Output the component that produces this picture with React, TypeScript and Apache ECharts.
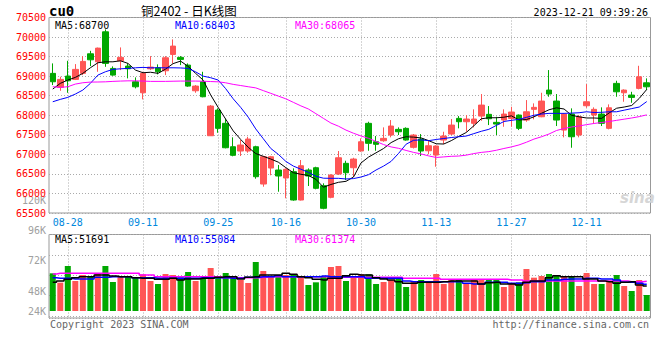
import React, { useEffect, useRef } from 'react';
import * as echarts from 'echarts';

const dates = [
  '08-24','08-25','08-28','08-29','08-30','08-31','09-01','09-04','09-05','09-06',
  '09-07','09-08','09-11','09-12','09-13','09-14','09-15','09-18','09-19','09-20',
  '09-21','09-22','09-25','09-26','09-27','09-28','10-09','10-10','10-11','10-12',
  '10-13','10-16','10-17','10-18','10-19','10-20','10-23','10-24','10-25','10-26',
  '10-27','10-30','10-31','11-01','11-02','11-03','11-06','11-07','11-08','11-09',
  '11-10','11-13','11-14','11-15','11-16','11-17','11-20','11-21','11-22','11-23',
  '11-24','11-27','11-28','11-29','11-30','12-01','12-04','12-05','12-06','12-07',
  '12-08','12-11','12-12','12-13','12-14','12-15','12-18','12-19','12-20','12-21',
];
const labelDates = ['08-28','09-11','09-25','10-16','10-30','11-13','11-27','12-11'];

const openP = [
  69071,68713,69002,68917,69071,69572,69367,70134,69198,69393,
  69257,68856,68575,69188,69214,69137,69556,69480,69283,68626,
  68856,67476,68133,67793,67195,67085,67085,67195,66241,66650,
  66599,66395,66556,65832,66599,66658,66198,65901,66497,66770,
  66658,67085,67793,67322,67348,67494,67639,67665,67179,67391,
  67092,66982,67366,67519,67920,67834,67793,67979,68023,67818,
  67877,67920,68005,67877,68151,67961,68644,68363,67621,68030,
  67494,68243,68005,68030,67665,68815,68575,68516,68687,68830,
];
const closeP = [
  68856,68917,68882,69173,69377,69418,69717,69326,69027,69480,
  69188,68728,69071,69232,69112,69470,69769,69429,68746,68746,
  68473,68235,67665,67169,66975,67238,67391,66428,66939,66939,
  66446,66617,65832,66709,66446,66131,65620,66471,66913,66530,
  66880,67322,67282,67256,67409,67724,67578,67366,67494,67085,
  67220,67213,67468,67749,67834,67903,67903,68260,67910,67775,
  68030,68082,67665,68089,68202,68363,68542,67877,68030,67450,
  67961,68345,68151,67793,68191,68600,68644,68457,68984,68728,
];
const lowP = [
  68772,68626,68575,68900,69027,69257,69112,69239,69010,69155,
  68943,68687,68406,69155,69045,69027,69326,69283,68728,68575,
  68460,67470,67552,67154,66950,66957,67041,66377,66172,66464,
  66044,65876,65814,65820,66190,66106,65595,65876,66471,66343,
  66428,67067,67092,67092,67322,67435,67494,67350,67150,66957,
  67000,66683,67264,67494,67665,67578,67690,67859,67749,67494,
  67706,67706,67621,67834,67895,67950,68473,67724,67435,67169,
  67435,68191,67793,67724,67639,68473,68345,68319,68662,68644,
];
const highP = [
  69326,68984,69393,69308,69513,69648,69730,70195,69250,69735,
  69326,68968,69112,69513,69301,69513,69940,69513,69326,68772,
  69112,68260,68176,67910,67435,67366,67450,67220,66960,66960,
  66727,66642,66642,66855,66642,66683,66259,66489,67085,66837,
  66913,67409,67834,67468,67690,67877,67690,67690,67520,67519,
  67350,67230,67578,67903,67979,68005,68151,68542,68235,67961,
  68151,68217,68020,68388,68304,68575,69155,68542,68048,68176,
  68005,68797,68202,68202,68278,68882,68662,68600,69265,68943,
];
const ma5 = [
  68670,68815,68900,68968,69071,69214,69342,69367,69367,69393,
  69326,69155,69087,69100,69071,69180,69320,69385,69250,69071,
  68900,68520,68200,67900,67600,67380,67180,67020,66950,66880,
  66800,66660,66530,66490,66460,66360,66160,66230,66285,66310,
  66420,66780,66930,67040,67150,67300,67400,67450,67440,67420,
  67350,67270,67264,67350,67460,67560,67730,67910,67936,67936,
  67950,67985,67880,67890,67960,68050,68140,68190,68160,68000,
  67960,67930,67930,67920,68060,68180,68210,68250,68430,68660,
];
const ma10 = [
  68345,68406,68457,68542,68644,68815,69027,69112,69173,69188,
  69198,69214,69224,69214,69214,69214,69214,69210,69198,69110,
  69000,68960,68900,68680,68420,68200,67950,67650,67400,67150,
  67000,66820,66700,66620,66540,66440,66390,66387,66387,66370,
  66380,66420,66480,66600,66700,66820,67026,67260,67360,67370,
  67350,67380,67405,67430,67450,67468,67530,67590,67640,67740,
  67840,67870,67895,67946,68000,68030,68048,68048,68048,68055,
  68064,68089,68070,68075,68089,68089,68130,68170,68210,68350,
];
const ma30 = [
  68729,68712,68730,68797,68831,68848,68850,68855,68866,68874,
  68880,68880,68874,68866,68866,68866,68870,68874,68874,68874,
  68870,68862,68855,68830,68790,68760,68729,68700,68630,68560,
  68490,68420,68330,68240,68160,68040,67920,67800,67720,67620,
  67540,67470,67410,67330,67250,67190,67154,67100,67050,67010,
  66960,66920,66935,66950,66957,66980,67020,67050,67070,67105,
  67150,67190,67240,67310,67390,67450,67520,67610,67660,67700,
  67726,67760,67790,67815,67840,67870,67900,67930,67965,68010,
];
const volumes = [
  77900,58600,93100,62000,74400,72400,77900,93100,60000,71000,
  71000,68900,75800,62000,55800,76500,74400,69600,80700,62000,
  68900,88900,68900,78600,71000,64100,57900,101300,82700,71000,
  74400,74400,75800,71000,53800,59300,71000,91000,93100,62000,
  71000,75800,75800,55800,60000,64100,69600,49600,60000,64100,
  60000,76500,55800,64100,66200,55800,64100,66200,66200,64100,
  49600,57200,59300,86900,68900,72400,76500,74400,71000,71000,
  51700,78600,55800,55800,60700,74400,51700,41400,64100,33100,
];
const volMa5 = [
  59300,62000,65500,68900,71000,71000,74400,74400,72400,71000,
  71000,68900,67600,67600,65500,65500,67600,64100,66200,66200,
  67600,67600,69600,71000,71000,66200,69600,71000,74400,74400,
  74400,77900,75800,71000,68900,65500,64100,67600,67600,73100,
  75800,74400,74400,68900,66200,64100,60700,57200,57200,59300,
  59300,59300,60700,62000,62000,62000,62000,55800,58600,59300,
  55800,55800,53800,59300,62000,62000,68900,73100,71000,71000,
  71000,66200,66200,62000,60700,57200,59300,60700,53800,51700,
];
const volMa10 = [
  68900,67600,67600,66200,66200,66200,69600,69600,71000,71000,
  71000,68900,68900,68900,67600,67600,67600,67600,67600,67600,
  68900,68900,68900,68900,67600,67600,69600,69600,71000,71000,
  73100,71000,71000,71000,71000,71000,72400,71000,71000,71000,
  71000,71000,67600,67600,67600,67600,67600,62000,60700,60700,
  60700,60700,60700,60700,60700,57200,55800,55800,59300,59300,
  59300,57200,57200,58600,60700,60700,64100,64100,65500,66200,
  66200,67600,67600,66200,66200,64100,59300,59300,57200,55100,
];
const volMa30 = [
  76500,77900,77900,77900,77900,77900,77900,77900,77900,77900,
  77900,77900,74400,74400,71000,71000,71000,71000,71000,71000,
  71000,71000,71000,68900,68900,68900,68900,68900,69600,71000,
  71000,71000,71000,71000,71000,71000,71000,69600,69600,69600,
  69600,69600,69600,69600,69600,69600,69600,67600,67600,67600,
  67600,67600,65500,65500,65500,65500,65500,65500,65500,65500,
  65500,64100,64100,62000,62000,62000,62000,62000,62000,62000,
  62000,62000,62000,62000,62000,62000,62000,60700,60700,61400,
];
const priceLegend = ['MA5:68700', 'MA10:68403', 'MA30:68065'];
const volLegend = ['MA5:51691', 'MA10:55084', 'MA30:61374'];
const volTickLabels = ['120K', '96K', '72K', '48K', '24K'];
const volTickY = [200, 230, 260, 291, 311];

const MONO = '"DejaVu Sans Mono", monospace';
const RED = '#ff5555';
const GREEN = '#00a800';
const MA_COLORS = ['#000000', '#0000ff', '#ff00ff'];
const GRID_LINE = { color: '#aaaaaa', type: [1, 2] as number[], width: 1 };

export default function App() {
  const ref = useRef<HTMLDivElement>(null);
  useEffect(() => {
    if (!ref.current) return;
    const chart = echarts.init(ref.current, undefined, { renderer: 'svg' });
    const labelIdx = new Set(labelDates.map((d) => dates.indexOf(d)));
    const showAt = (i: number) => labelIdx.has(i);
    const isUp = closeP.map((c, i) => c >= openP[i]);

    const txt = (text: string, x: number, y: number, fill: string, font: string, align = 'left') => ({
      type: 'text', x, y, silent: true,
      style: { text, fill, font, align, textAlign: align, verticalAlign: 'middle', textVerticalAlign: 'middle' },
    });

    const graphics: any[] = [
      txt('cu0', 49, 11, '#000', `bold 14px ${MONO}`),
      txt('铜2402 - 日K线图', 141, 10, '#000', '12.5px "Noto Sans CJK SC", sans-serif'),
      txt('2023-12-21 09:39:26', 648, 12, '#000', `10px ${MONO}`, 'right'),
      txt('Copyright 2023 SINA.COM', 50, 324, '#666', `10px ${MONO}`),
      txt('http://finance.sina.com.cn', 649, 324, '#666', `10px ${MONO}`, 'right'),
      txt('sina', 620, 198, '#d6d6d6', `italic bold 15px "DejaVu Sans", sans-serif`),
    ];
    const legendX = [55, 175, 295];
    priceLegend.forEach((t, k) => graphics.push(txt(t, legendX[k], 25, MA_COLORS[k], `10px ${MONO}`)));
    volLegend.forEach((t, k) => graphics.push(txt(t, legendX[k], 239, MA_COLORS[k], `10px ${MONO}`)));
    volTickLabels.forEach((t, k) => graphics.push(txt(t, 46, volTickY[k], '#a0a0a0', `10px ${MONO}`, 'right')));

    const maLine = (data: number[], color: string, xi: number, yi: number, step?: string, w = 1) => ({
      type: 'line', data, xAxisIndex: xi, yAxisIndex: yi, symbol: 'none', silent: true,
      step: step || false, lineStyle: { color, width: w }, itemStyle: { color },
    });

    chart.setOption({
      animation: false,
      backgroundColor: '#ffffff',
      grid: [
        { left: 49, right: 9.5, top: 17.5, height: 195.5, show: true, borderColor: '#999', borderWidth: 1, backgroundColor: 'transparent' },
        { left: 49, right: 9.5, top: 234.5, height: 83.5, show: true, borderColor: '#999', borderWidth: 1, backgroundColor: 'transparent' },
      ],
      xAxis: [
        {
          type: 'category', gridIndex: 0, data: dates, boundaryGap: true,
          axisLine: { show: false }, axisTick: { show: false },
          axisLabel: { interval: (i: number) => showAt(i), color: '#0088dd', fontFamily: MONO, fontSize: 10, margin: 4 },
          splitLine: { show: true, interval: (i: number) => showAt(i), alignWithLabel: true, lineStyle: GRID_LINE },
        },
        {
          type: 'category', gridIndex: 1, data: dates, boundaryGap: true,
          axisLine: { show: false }, axisTick: { show: false }, axisLabel: { show: false },
          splitLine: { show: true, interval: (i: number) => showAt(i), alignWithLabel: true, lineStyle: GRID_LINE },
        },
      ],
      yAxis: [
        {
          type: 'value', gridIndex: 0, min: 65500, max: 70500, interval: 500,
          axisLine: { show: false }, axisTick: { show: false },
          axisLabel: { color: '#ff0000', fontFamily: MONO, fontSize: 10, margin: 3, padding: [0, 0, 4, 0], formatter: (v: number) => String(v) },
          splitLine: { show: true, lineStyle: GRID_LINE },
        },
        {
          type: 'value', gridIndex: 1, min: -14500, max: 158200,
          axisLine: { show: false }, axisTick: { show: false }, axisLabel: { show: false }, splitLine: { show: false },
        },
        {
          type: 'value', gridIndex: 1, inverse: true, min: 0, max: 4.11, interval: 1,
          axisLine: { show: false }, axisTick: { show: false }, axisLabel: { show: false },
          splitLine: { show: true, lineStyle: GRID_LINE },
        },
      ],
      series: [
        {
          type: 'candlestick', xAxisIndex: 0, yAxisIndex: 0, barWidth: 6, silent: true,
          data: dates.map((_, i) => [openP[i], closeP[i], lowP[i], highP[i]]),
          itemStyle: { color: RED, color0: GREEN, borderColor: RED, borderColor0: GREEN, borderWidth: 1 },
        },
        maLine(ma5, MA_COLORS[0], 0, 0),
        maLine(ma10, MA_COLORS[1], 0, 0),
        maLine(ma30, MA_COLORS[2], 0, 0),
        {
          type: 'bar', xAxisIndex: 1, yAxisIndex: 1, barWidth: 6, silent: true,
          data: volumes.map((v, i) => ({ value: v, itemStyle: { color: isUp[i] ? RED : GREEN } })),
        },
        maLine(volMa30, MA_COLORS[2], 1, 1, 'middle', 1.5),
        maLine(volMa10, MA_COLORS[1], 1, 1, 'middle', 1.5),
        maLine(volMa5, MA_COLORS[0], 1, 1, 'middle', 1.5),
      ],
      graphic: graphics,
    });
    return () => chart.dispose();
  }, []);
  return <div ref={ref} style={{ position: 'fixed', left: 0, top: 0, width: 660, height: 360, background: '#fff' }} />;
}
